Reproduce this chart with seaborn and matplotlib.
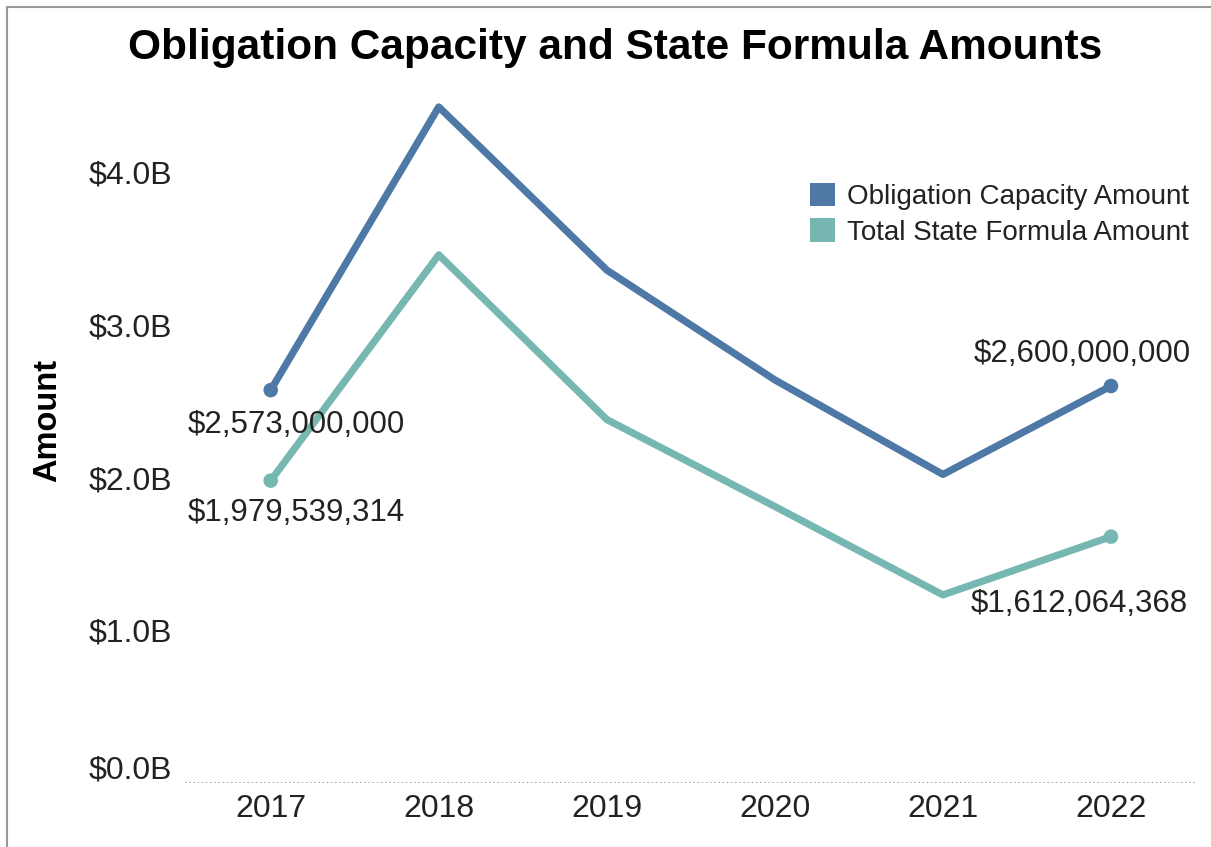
import matplotlib
matplotlib.use("Agg")
import matplotlib.pyplot as plt
import matplotlib.transforms as mtransforms
from matplotlib.patches import Patch
from matplotlib.lines import Line2D
import seaborn as sns
import pandas as pd

years = ["2017", "2018", "2019", "2020", "2021", "2022"]
obligation = [2.573e9, 4.43e9, 3.36e9, 2.64e9, 2.02e9, 2.600e9]
state_formula = [1.979539314e9, 3.46e9, 2.38e9, 1.81e9, 1.23e9, 1.612064368e9]
series_names = ["Obligation Capacity Amount", "Total State Formula Amount"]
y_ticks = [0, 1e9, 2e9, 3e9, 4e9]
y_tick_labels = ["$0.0B", "$1.0B", "$2.0B", "$3.0B", "$4.0B"]
end_labels = {
    ("Obligation Capacity Amount", "2017"): "$2,573,000,000",
    ("Total State Formula Amount", "2017"): "$1,979,539,314",
    ("Obligation Capacity Amount", "2022"): "$2,600,000,000",
    ("Total State Formula Amount", "2022"): "$1,612,064,368",
}

df = pd.DataFrame({
    "Year": years * 2,
    "Amount": obligation + state_formula,
    "Series": [series_names[0]] * len(years) + [series_names[1]] * len(years),
})
df["x"] = df["Year"].map({y: i for i, y in enumerate(years)})

sns.set_theme(style="white")
plt.rcParams["font.family"] = ["Liberation Sans", "DejaVu Sans"]

colors = {series_names[0]: "#4e79a7", series_names[1]: "#76b7b2"}

W, H, DPI = 1211, 847, 100
fig = plt.figure(figsize=(W / DPI, H / DPI), dpi=DPI)
fig.patch.set_facecolor("white")
ax = fig.add_axes([185 / W, (H - 782.5) / H, (1195 - 185) / W, (782.5 - 81) / H])

sns.lineplot(data=df, x="x", y="Amount", hue="Series", palette=colors,
             linewidth=5.2, ax=ax, legend=False, sort=False)
ends = df[df["Year"].isin([years[0], years[-1]])]
sns.scatterplot(data=ends, x="x", y="Amount", hue="Series", palette=colors,
                s=110, linewidth=0, ax=ax, legend=False, zorder=5)

offsets = {
    ("Obligation Capacity Amount", "2017"): (26, -35),
    ("Total State Formula Amount", "2017"): (26, -32),
    ("Obligation Capacity Amount", "2022"): (-29, 32),
    ("Total State Formula Amount", "2022"): (-32, -67),
}
for _, r in ends.iterrows():
    key = (r["Series"], r["Year"])
    ax.annotate(end_labels[key], (r["x"], r["Amount"]), xytext=offsets[key],
                textcoords="offset pixels", ha="center", va="center",
                fontsize=22.5, color="#222222")

ax.set_xlim(-0.51, 5.5)
ax.set_ylim(0, 4.6e9)
ax.set_xticks(range(len(years)))
ax.set_xticklabels(years)
ax.set_yticks(y_ticks)
ax.set_yticklabels(y_tick_labels)
ax.tick_params(axis="x", length=0, pad=8, labelsize=23, labelcolor="#222222")
ax.tick_params(axis="y", length=5, width=0.8, color="#eeeeee", pad=4,
               labelsize=23, labelcolor="#222222")
# zero label sits slightly above the baseline
zl = ax.get_yticklabels()[0]
zl.set_transform(zl.get_transform() + mtransforms.ScaledTranslation(0, 16 / DPI, fig.dpi_scale_trans))
ax.set_xlabel("")
ax.set_ylabel("")
for s in ax.spines.values():
    s.set_visible(False)
ax.axhline(0, color="#999999", linestyle=(0, (1, 1.5)), linewidth=1.2)

handles = [Patch(facecolor=colors[n], edgecolor="none") for n in series_names]
leg = ax.legend(handles, series_names, loc="upper right",
                bbox_to_anchor=(1189 / W, 1 - 183 / H), bbox_transform=fig.transFigure,
                frameon=False, fontsize=20, handlelength=0.9, handleheight=0.9,
                handletextpad=0.45, labelspacing=0.3, borderaxespad=0, borderpad=0)
for t in leg.get_texts():
    t.set_color("#222222")

fig.text(615 / W, 1 - 48 / H, "Obligation Capacity and State Formula Amounts",
         ha="center", va="center", fontsize=30.5, fontweight="bold", color="black")
fig.text(48 / W, 1 - 420 / H, "Amount", rotation=90, ha="center", va="center",
         fontsize=23.5, fontweight="bold", color="black")

fig.add_artist(Line2D([7 / W, 7 / W], [0, 1 - 7 / H], transform=fig.transFigure,
                      color="#999999", linewidth=1.5))
fig.add_artist(Line2D([7 / W, 1], [1 - 7 / H, 1 - 7 / H], transform=fig.transFigure,
                      color="#999999", linewidth=1.5))

fig.savefig("out.png", dpi=DPI)
